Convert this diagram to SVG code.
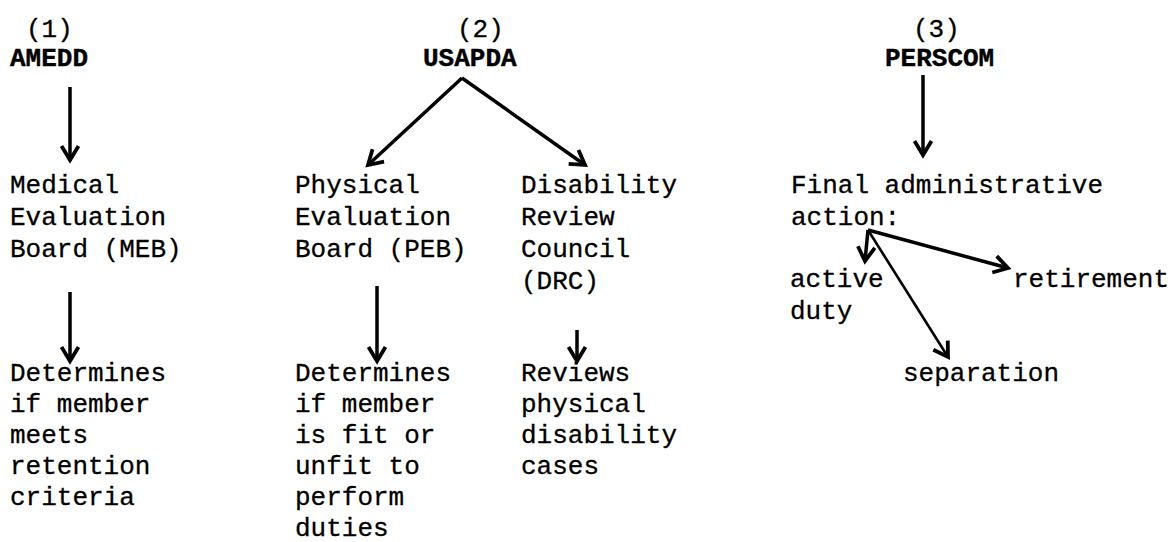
<svg xmlns="http://www.w3.org/2000/svg" width="1173" height="542" viewBox="0 0 1173 542">
<style>
text{font-family:"Liberation Mono","Courier New",monospace;font-size:26px;fill:#000;stroke:#000;stroke-width:0.3}
.h{font-weight:bold;stroke-width:0.4}
.c{stroke:#000;stroke-width:3.5;fill:none;marker-end:url(#ah)}
.t{stroke-width:2.6}
</style>
<defs>
<marker id="ah" markerUnits="userSpaceOnUse" markerWidth="30" markerHeight="30" refX="0" refY="0" viewBox="-20 -15 30 30" orient="auto" overflow="visible">
<path d="M-14,-8.5 L0,0 L-14,8.5" fill="none" stroke="#000" stroke-width="3.8" stroke-linejoin="miter"/>
</marker>
</defs>
<rect width="1173" height="542" fill="#fff"/>
<g id="connectors">
<line class="c" x1="70" y1="87" x2="70" y2="160"/>
<line class="c" x1="70" y1="292" x2="70" y2="361"/>
<line class="c" x1="462" y1="78" x2="368" y2="165"/>
<line class="c" x1="462" y1="78" x2="585" y2="165"/>
<line class="c" x1="377" y1="286" x2="377" y2="361"/>
<line class="c" x1="577" y1="330" x2="577" y2="361"/>
<line class="c" x1="923" y1="75" x2="923" y2="155"/>
<line class="c" x1="868" y1="230" x2="865" y2="261"/>
<line class="c" x1="868" y1="230" x2="1008" y2="268"/>
<line class="c t" x1="868" y1="230" x2="948" y2="357"/>
</g>
<g id="amedd"><text x="26" y="37">(1)</text><text class="h" x="10" y="66">AMEDD</text></g>
<g id="meb"><text><tspan x="10" y="193">Medical</tspan><tspan x="10" y="225">Evaluation</tspan><tspan x="10" y="257">Board (MEB)</tspan></text></g>
<g id="meb-role"><text><tspan x="10" y="381">Determines</tspan><tspan x="10" y="412">if member</tspan><tspan x="10" y="443">meets</tspan><tspan x="10" y="474">retention</tspan><tspan x="10" y="505">criteria</tspan></text></g>
<g id="usapda"><text x="457" y="37">(2)</text><text class="h" x="423" y="66">USAPDA</text></g>
<g id="peb"><text><tspan x="295" y="193">Physical</tspan><tspan x="295" y="225">Evaluation</tspan><tspan x="295" y="257">Board (PEB)</tspan></text></g>
<g id="peb-role"><text><tspan x="295" y="381">Determines</tspan><tspan x="295" y="412">if member</tspan><tspan x="295" y="443">is fit or</tspan><tspan x="295" y="474">unfit to</tspan><tspan x="295" y="505">perform</tspan><tspan x="295" y="536">duties</tspan></text></g>
<g id="drc"><text><tspan x="521" y="193">Disability</tspan><tspan x="521" y="225">Review</tspan><tspan x="521" y="257">Council</tspan><tspan x="521" y="289">(DRC)</tspan></text></g>
<g id="drc-role"><text><tspan x="521" y="381">Reviews</tspan><tspan x="521" y="412">physical</tspan><tspan x="521" y="443">disability</tspan><tspan x="521" y="474">cases</tspan></text></g>
<g id="perscom"><text x="913" y="37">(3)</text><text class="h" x="885" y="66">PERSCOM</text></g>
<g id="final-action"><text><tspan x="791" y="193">Final administrative</tspan><tspan x="791" y="225">action:</tspan></text></g>
<g id="active-duty"><text><tspan x="790" y="287">active</tspan><tspan x="790" y="319">duty</tspan></text></g>
<g id="retirement"><text x="1013" y="287">retirement</text></g>
<g id="separation"><text x="903" y="381">separation</text></g>
</svg>
